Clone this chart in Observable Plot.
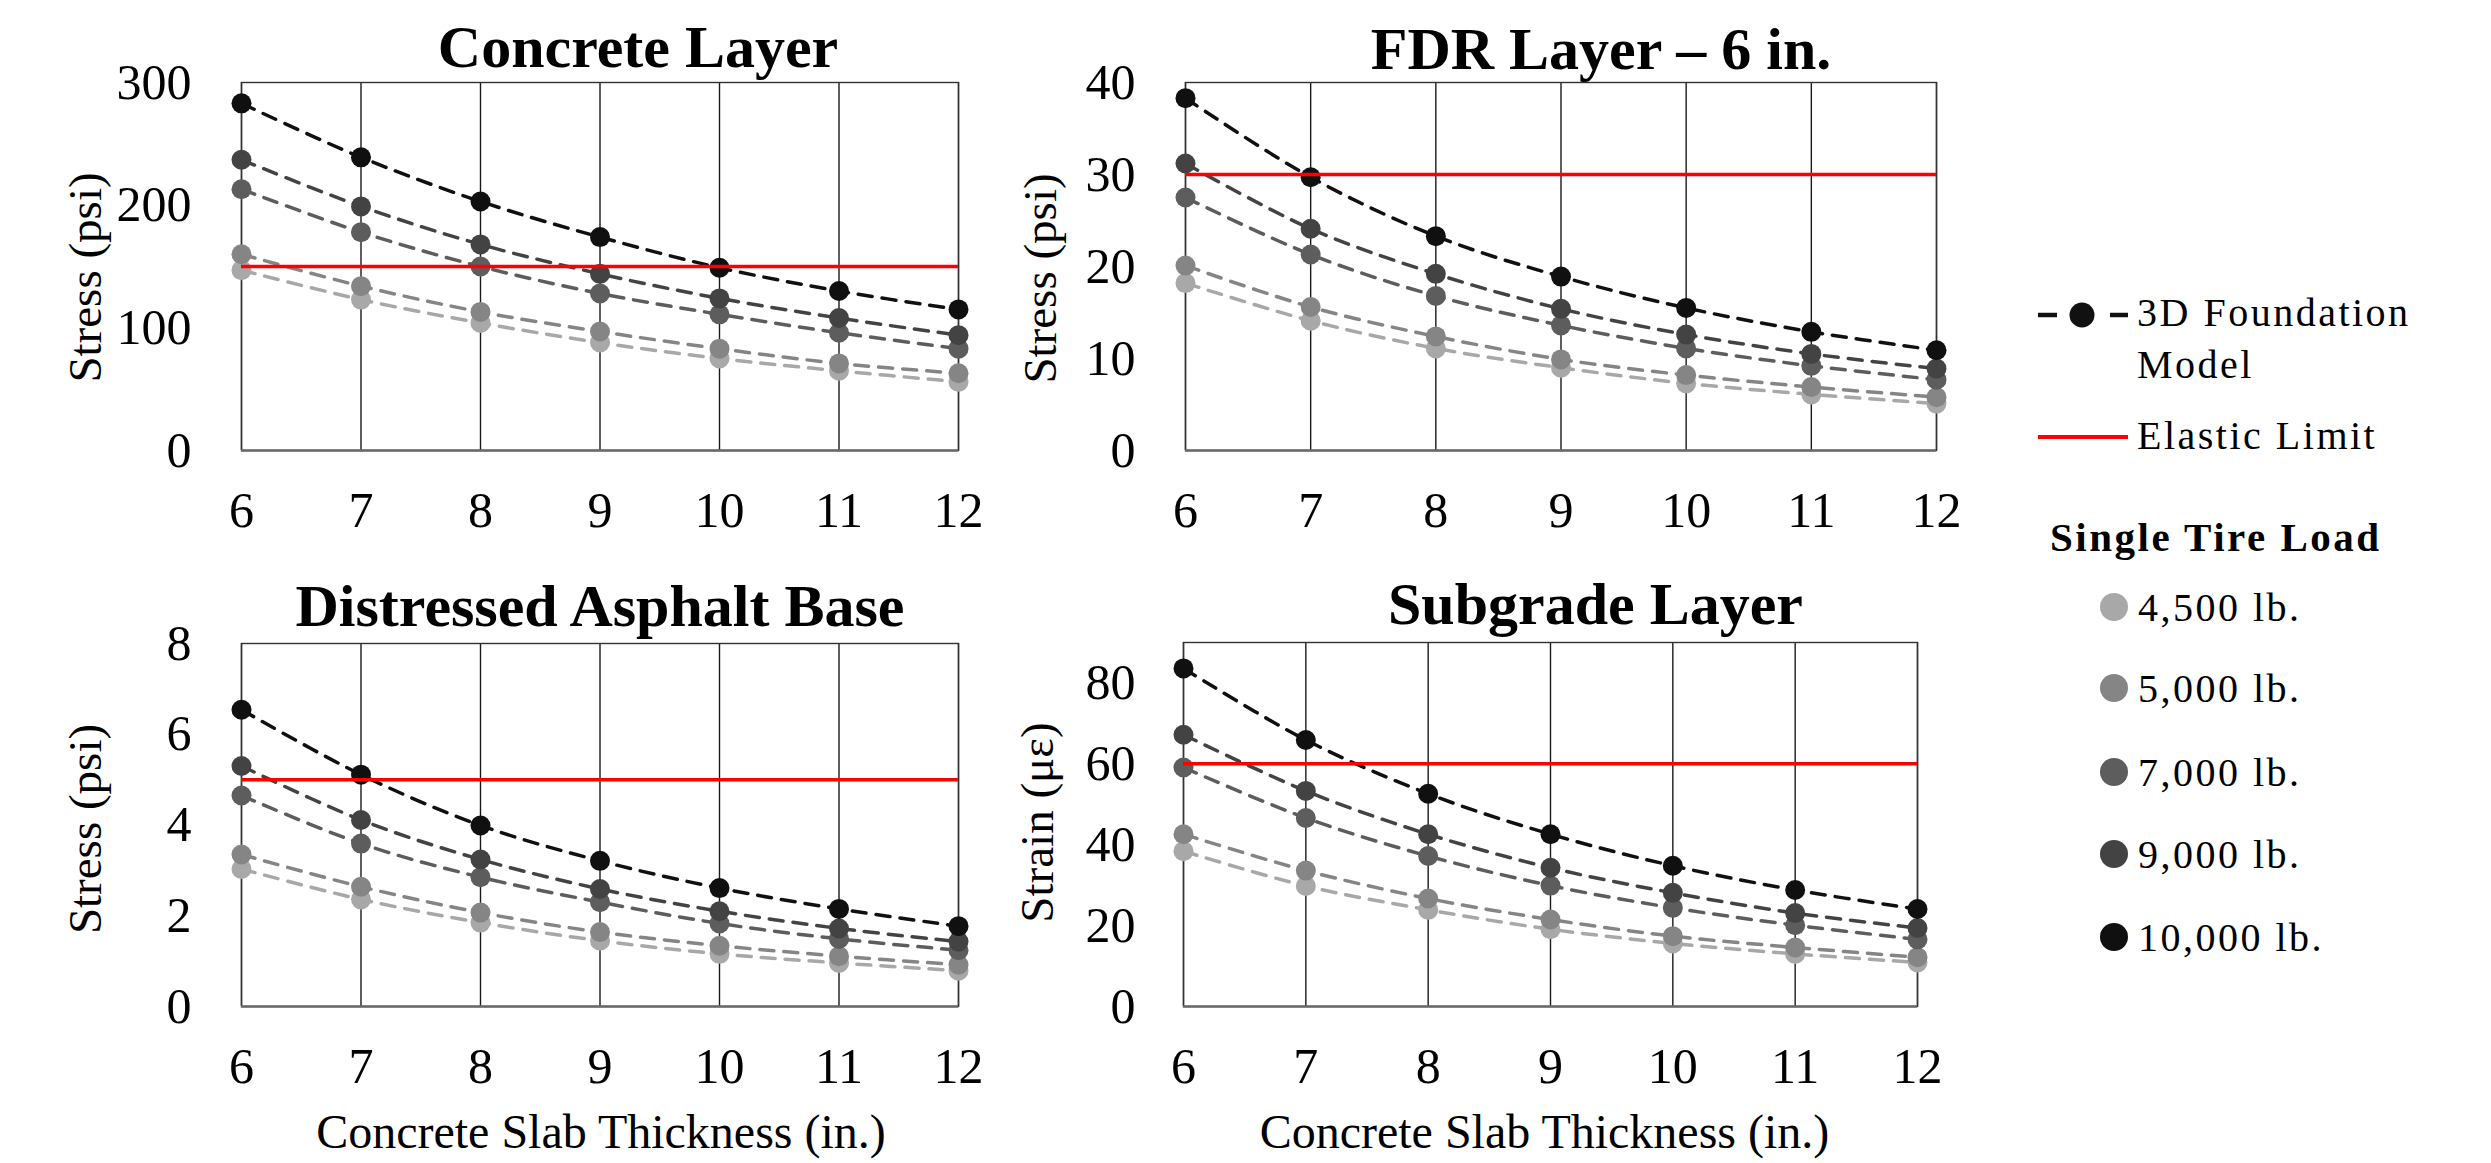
<!DOCTYPE html>
<html>
<head>
<meta charset="utf-8">
<script src="https://cdn.jsdelivr.net/npm/d3@7"></script>
<script src="https://cdn.jsdelivr.net/npm/@observablehq/plot@0.6"></script>
<style>
  html, body { margin: 0; padding: 0; background: #fff; }
  body { width: 2491px; height: 1163px; position: relative; overflow: hidden; font-family: "Liberation Serif", "Times New Roman", serif; }
  .panel { position: absolute; }
  #legend { position: absolute; left: 1990px; top: 250px; }
</style>
</head>
<body>
<div id="p0" class="panel" style="left:0px;top:0px"></div>
<div id="p1" class="panel" style="left:1000px;top:0px"></div>
<div id="p2" class="panel" style="left:0px;top:560px"></div>
<div id="p3" class="panel" style="left:1000px;top:560px"></div>
<div id="legend"></div>
<script>
// ---------------- DATA ----------------
const thickness = [6, 7, 8, 9, 10, 11, 12];
const loads = ["4,500 lb.", "5,000 lb.", "7,000 lb.", "9,000 lb.", "10,000 lb."];
const loadColors = ["#a8a8a8", "#858585", "#5d5d5d", "#434343", "#101010"];

// rows follow the loads order: 4,500 / 5,000 / 7,000 / 9,000 / 10,000 lb.
const concreteStress = [
  [147, 123, 104, 88, 75, 65, 56],
  [160, 134, 113, 97, 83, 71, 63],
  [213, 178, 150, 128, 111, 96, 83],
  [237, 199, 168, 144, 124, 108, 94],
  [283, 239, 203, 174, 149, 130, 115]
];
const fdrStress = [
  [18.2, 14.1, 11.1, 9.0, 7.3, 6.1, 5.1],
  [20.1, 15.6, 12.4, 9.9, 8.2, 6.9, 5.8],
  [27.5, 21.3, 16.8, 13.6, 11.1, 9.2, 7.7],
  [31.2, 24.1, 19.2, 15.4, 12.6, 10.5, 8.9],
  [38.3, 29.7, 23.3, 18.9, 15.5, 12.9, 10.9]
];
const asphaltStress = [
  [3.03, 2.36, 1.85, 1.45, 1.16, 0.96, 0.79],
  [3.35, 2.64, 2.07, 1.64, 1.34, 1.11, 0.92],
  [4.65, 3.59, 2.85, 2.30, 1.83, 1.49, 1.24],
  [5.30, 4.11, 3.24, 2.59, 2.10, 1.72, 1.43],
  [6.54, 5.11, 3.99, 3.21, 2.61, 2.15, 1.77]
];
const subgradeStrain = [
  [38.4, 29.8, 23.9, 19.1, 15.6, 13.0, 10.9],
  [42.6, 33.6, 26.7, 21.5, 17.4, 14.6, 12.2],
  [59.1, 46.6, 37.2, 29.9, 24.4, 20.1, 16.6],
  [67.2, 53.3, 42.6, 34.3, 28.1, 23.1, 19.4],
  [83.6, 65.9, 52.6, 42.6, 34.8, 28.8, 24.1]
];

const panelTitles = ["Concrete Layer", "FDR Layer \u2013 6 in.", "Distressed Asphalt Base", "Subgrade Layer"];
const yLabels = ["Stress (psi)", "Stress (psi)", "Stress (psi)", "Strain (\u03bc\u03b5)"];
const elasticLimits = [150, 30, 5, 60];
const yMax = [300, 40, 8, 90];
const yTicks = [[0, 100, 200, 300], [0, 10, 20, 30, 40], [0, 2, 4, 6, 8], [0, 20, 40, 60, 80]];
const xTitle = "Concrete Slab Thickness (in.)";
const legendModel = ["3D Foundation", "Model"];
const legendLimit = "Elastic Limit";
const legendTitle = "Single Tire Load";

// ---------------- LAYOUT ----------------
const layouts = [
  {w: 1000, h: 560, ml: 241, mr: 42, mt: 82, mb: 110, yPad: 50, tDx: 38, tDy: -16, lDx: -156, lDy: 11, xt: false},
  {w: 990,  h: 560, ml: 185, mr: 54, mt: 82, mb: 110, yPad: 50, tDx: 40, tDy: -14, lDx: -145, lDy: 12, xt: false},
  {w: 1000, h: 603, ml: 241, mr: 42, mt: 83, mb: 157, yPad: 50, tDx: 0,  tDy: -18, lDx: -156, lDy: 4,  xt: true, xDx: 1},
  {w: 990,  h: 603, ml: 183, mr: 73, mt: 82, mb: 157, yPad: 48, tDx: 45, tDy: -19, lDx: -146, lDy: -2, xt: true, xDx: -6}
];
const panelData = [concreteStress, fdrStress, asphaltStress, subgradeStrain];

function makePanel(i) {
  const L = layouts[i];
  const values = panelData[i];
  const rows = [];
  loads.forEach((load, k) => thickness.forEach((t, j) => rows.push({load, t, v: values[k][j]})));
  const marks = [
    Plot.ruleX(thickness, {stroke: "#1a1a1a", strokeWidth: 1.4}),
    Plot.frame({stroke: "#333", strokeWidth: 1.4}),
    Plot.ruleY([0], {stroke: "#6a6a6a", strokeWidth: 2.5}),
    Plot.axisY({ticks: yTicks[i], tickSize: 0, tickPadding: L.yPad, label: null, fontSize: 50, tickFormat: d => String(d)}),
    Plot.axisX({ticks: thickness, tickSize: 0, tickPadding: 41, label: null, fontSize: 50, tickFormat: d => String(d)})
  ];
  loads.forEach(load => {
    const s = rows.filter(r => r.load === load);
    marks.push(Plot.line(s, {x: "t", y: "v", stroke: "load", strokeWidth: 3.5, strokeDasharray: "14,10", curve: "catmull-rom"}));
    marks.push(Plot.dot(s, {x: "t", y: "v", fill: "load", r: 10}));
  });
  marks.push(Plot.ruleY([elasticLimits[i]], {stroke: "#ff0000", strokeWidth: 3.5}));
  marks.push(Plot.text([panelTitles[i]], {frameAnchor: "top", lineAnchor: "bottom", dx: L.tDx, dy: L.tDy, fontSize: 60, fontWeight: "bold", fill: "#000"}));
  marks.push(Plot.text([yLabels[i]], {frameAnchor: "left", rotate: -90, textAnchor: "middle", lineAnchor: "middle", dx: L.lDx, dy: L.lDy, fontSize: 47, fill: "#000"}));
  if (L.xt) {
    marks.push(Plot.text([xTitle], {frameAnchor: "bottom", lineAnchor: "bottom", dx: L.xDx, dy: 141, fontSize: 48, fill: "#000"}));
  }
  const chart = Plot.plot({
    width: L.w, height: L.h,
    marginLeft: L.ml, marginRight: L.mr, marginTop: L.mt, marginBottom: L.mb,
    x: {domain: [6, 12]},
    y: {domain: [0, yMax[i]]},
    color: {domain: loads, range: loadColors},
    style: {fontFamily: "'Liberation Serif', 'Times New Roman', serif", color: "#000", background: "transparent", overflow: "visible"},
    marks
  });
  document.getElementById("p" + i).appendChild(chart);
}
[0, 1, 2, 3].forEach(makePanel);

// ---------------- LEGEND ----------------
(function () {
  const ox = 1990, oy = 250;
  const svg = d3.select("#legend").append("svg")
    .attr("width", 501).attr("height", 750)
    .attr("font-family", "Liberation Serif, Times New Roman, serif");
  const g = svg.append("g").attr("transform", `translate(${-ox},${-oy})`);
  const txt = (x, y, s, bold) => g.append("text").attr("x", x).attr("y", y)
    .attr("font-family", "Liberation Serif, Times New Roman, serif")
    .attr("font-size", bold ? 41 : 40).attr("font-weight", bold ? "bold" : "normal")
    .attr("letter-spacing", "2.5px").attr("fill", "#000").text(s);
  // model entry
  g.append("line").attr("x1", 2038).attr("x2", 2057).attr("y1", 315).attr("y2", 315).attr("stroke", "#111").attr("stroke-width", 4.5);
  g.append("circle").attr("cx", 2082).attr("cy", 315).attr("r", 12.5).attr("fill", "#111");
  g.append("line").attr("x1", 2110).attr("x2", 2128).attr("y1", 315).attr("y2", 315).attr("stroke", "#111").attr("stroke-width", 4.5);
  txt(2137, 326, legendModel[0]);
  txt(2137, 378, legendModel[1]);
  // elastic limit
  g.append("line").attr("x1", 2038).attr("x2", 2128).attr("y1", 437).attr("y2", 437).attr("stroke", "#ff0000").attr("stroke-width", 4);
  txt(2137, 449, legendLimit);
  // loads
  txt(2050, 551, legendTitle, true);
  const ys = [607, 688, 772, 854, 937];
  loads.forEach((l, k) => {
    g.append("circle").attr("cx", 2114).attr("cy", ys[k]).attr("r", 14).attr("fill", loadColors[k]);
    txt(2138, ys[k] + 14, l);
  });
})();
</script>
</body>
</html>
